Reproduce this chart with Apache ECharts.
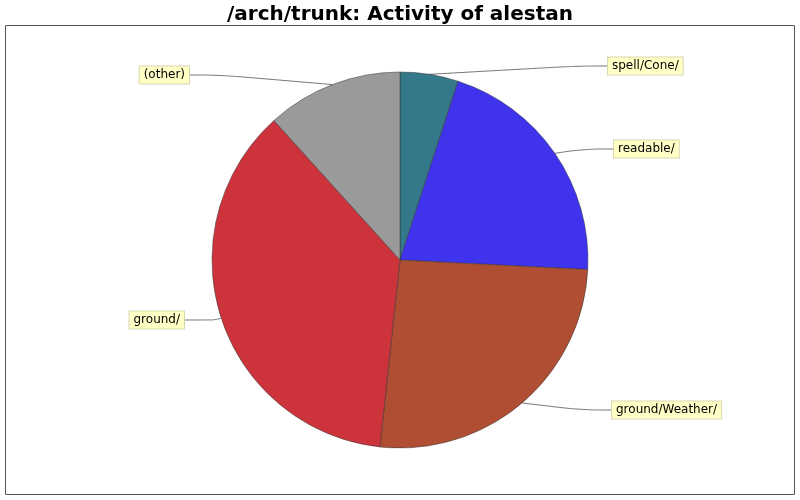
<!DOCTYPE html>
<html>
<head>
<meta charset="utf-8">
<script src="https://cdn.jsdelivr.net/npm/echarts@6/dist/echarts.min.js"></script>
<style>
html, body { margin: 0; padding: 0; background: #fff; }
#container { width: 800px; height: 500px; }
</style>
</head>
<body>
<div id="container"></div>
<script>
var dom = document.getElementById("container");
var myChart = echarts.init(dom);

// slices, clockwise from 12 o'clock
var names = ['spell/Cone/', 'readable/', 'ground/Weather/', 'ground/', '(other)'];
var values = [5.0, 20.8, 25.9, 36.6, 11.7];
var colors = ['#34798a', '#3f33ee', '#b04e33', '#cd333b', '#9a9a9a'];

// label anchor points (left/right edge of box, middle y)
var labelPos = [
    [608, 66, 'left'],
    [614, 149, 'left'],
    [612, 410, 'left'],
    [184, 320, 'right'],
    [189, 75, 'right']
];

var data = names.map(function (n, i) {
    return { name: n, value: values[i], itemStyle: { color: colors[i] } };
});

var option = {
    backgroundColor: '#fff',
    animation: false,
    title: {
        text: '/arch/trunk: Activity of alestan',
        left: 'center',
        top: 0,
        textStyle: {
            fontFamily: 'DejaVu Sans',
            fontWeight: 'bold',
            fontSize: 20,
            color: '#000'
        }
    },
    graphic: [{
        type: 'rect',
        shape: { x: 5.5, y: 25.5, width: 789, height: 469 },
        style: { fill: 'none', stroke: '#555', lineWidth: 1 },
        z: -1
    }],
    series: [{
        type: 'pie',
        center: [400, 260],
        radius: 188,
        startAngle: 90,
        clockwise: true,
        data: data,
        itemStyle: {
            borderColor: '#333',
            borderWidth: 0.5
        },
        label: {
            show: true,
            formatter: '{b}',
            fontFamily: 'DejaVu Sans',
            fontSize: 12,
            color: '#000',
            backgroundColor: '#ffffc6',
            borderColor: '#d8d8b0',
            borderWidth: 1,
            padding: [3, 4, 2, 4]
        },
        labelLine: {
            show: true,
            smooth: 0.4,
            length: 20,
            length2: 30,
            lineStyle: { color: '#777', width: 1 }
        },
        labelLayout: function (params) {
            var p = labelPos[params.dataIndex];
            return {
                x: p[0],
                y: p[1],
                align: p[2],
                verticalAlign: 'middle',
                hideOverlap: false
            };
        },
        emphasis: { disabled: true }
    }]
};
myChart.setOption(option);
</script>
</body>
</html>
